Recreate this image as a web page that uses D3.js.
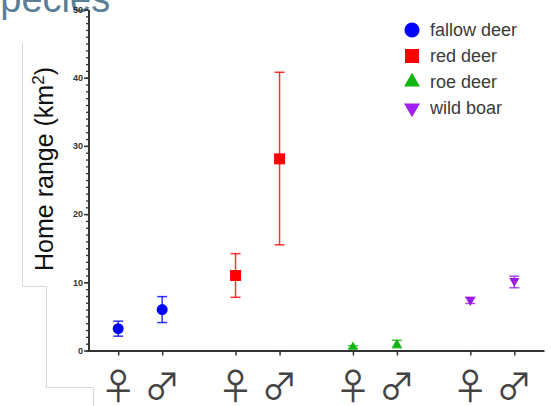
<!DOCTYPE html>
<meta charset="utf-8">
<title>Home range</title>
<style>
body { margin: 0; background: white; font-family: Arial, "Liberation Sans", sans-serif; }
.tick text { font-size: 9px; font-weight: bold; fill: #333; }
.axis path, .axis line { stroke: #333; }
</style>
<body>
<script src="https://d3js.org/d3.v7.min.js"></script>
<script>
var width = 557, height = 406;

// data
var species = ["fallow deer", "red deer", "roe deer", "wild boar"];
var sexes = ["\u2640", "\u2642"];   // female, male
var colors = ["#0000ff", "#ff0000", "#11b511", "#9a1ae8"];
var meanF = [3.2, 11.0, 0.5, 7.4];
var meanM = [6.0, 28.1, 0.9, 10.2];
var lowF  = [2.1, 7.8, 0.3, 6.9];
var highF = [4.3, 14.2, 0.7, 7.8];
var lowM  = [4.1, 15.5, 0.4, 9.2];
var highM = [7.9, 40.8, 1.5, 10.9];
var yTicks = [0, 10, 20, 30, 40, 50];

var shapes = [d3.symbolCircle, d3.symbolSquare, d3.symbolTriangle, d3.symbolTriangle];
var sizes = [95, 121, 40, 45];

var points = [];
species.forEach(function(sp, i) {
  points.push({sp: sp, i: i, sex: sexes[0], mean: meanF[i], lo: lowF[i], hi: highF[i]});
  points.push({sp: sp, i: i, sex: sexes[1], mean: meanM[i], lo: lowM[i], hi: highM[i]});
});

var svg = d3.select("body").append("svg")
    .attr("width", width)
    .attr("height", height);

// faint slide title, cut at the top
svg.append("text")
    .attr("x", -25).attr("y", 12)
    .style("font-size", "38px")
    .style("fill", "#5b7f96")
    .text("Species");

// faint placeholder borders
var grey = "#d9d9d9";
svg.append("path")
    .attr("d", "M22.5,43V286.5H46.5V387.5H93.5V406")
    .attr("fill", "none").attr("stroke", grey);

var x = d3.scaleBand().domain(species).range([81.5, 551]);
var xs = d3.scalePoint().domain(sexes).range([-22, 22]);
var y = d3.scaleLinear().domain([0, 50]).range([350.5, 9.5]);
function cx(d) { return x(d.sp) + x.bandwidth() / 2 + xs(d.sex); }

var axisX = 88.5;

// y axis minor ticks
svg.append("g").attr("class", "axis")
    .attr("transform", "translate(" + axisX + ",0)")
    .call(d3.axisLeft(y).tickValues(d3.range(0, 51, 1)).tickSize(2.5).tickFormat(""))
    .call(function(g) { g.select(".domain").remove(); })
    .selectAll("line").attr("stroke-width", 1.3);

// y axis major ticks
svg.append("g").attr("class", "axis")
    .attr("transform", "translate(" + axisX + ",0)")
    .call(d3.axisLeft(y).tickValues(yTicks).tickSize(4.5).tickSizeOuter(0).tickPadding(1))
    .call(function(g) {
      g.select(".domain").attr("stroke-width", 2);
      g.selectAll("line").attr("stroke-width", 1.5);
    });

// x axis
var xId = d3.scaleIdentity().domain([axisX - 1, 544]);
svg.append("g").attr("class", "axis")
    .attr("transform", "translate(0," + y(0) + ")")
    .call(d3.axisBottom(xId).tickValues(points.map(cx)).tickSize(5).tickSizeOuter(0).tickFormat(""))
    .call(function(g) {
      g.select(".domain").attr("stroke-width", 2);
      g.selectAll("line").attr("stroke-width", 1.5);
    });

// sex symbols under the ticks
svg.selectAll(".sex")
    .data(points)
  .enter().append("text")
    .attr("class", "sex")
    .attr("x", cx)
    .attr("y", 400)
    .attr("text-anchor", "middle")
    .style("font-family", "'Noto Sans CJK JP'")
    .style("font-size", "36px")
    .style("fill", "#444")
    .text(function(d) { return d.sex; });

// error bars
var eb = svg.selectAll(".eb")
    .data(points)
  .enter().append("g")
    .attr("class", "eb")
    .attr("stroke", function(d) { return colors[d.i]; })
    .attr("stroke-opacity", 0.8)
    .attr("stroke-width", 1.5);
eb.append("line")
    .attr("x1", cx).attr("x2", cx)
    .attr("y1", function(d) { return y(d.lo); })
    .attr("y2", function(d) { return y(d.hi); });
eb.append("line")
    .attr("x1", function(d) { return cx(d) - 5; }).attr("x2", function(d) { return cx(d) + 5; })
    .attr("y1", function(d) { return y(d.lo); }).attr("y2", function(d) { return y(d.lo); });
eb.append("line")
    .attr("x1", function(d) { return cx(d) - 5; }).attr("x2", function(d) { return cx(d) + 5; })
    .attr("y1", function(d) { return y(d.hi); }).attr("y2", function(d) { return y(d.hi); });

// means
svg.selectAll(".pt")
    .data(points)
  .enter().append("path")
    .attr("class", "pt")
    .attr("d", function(d) { return d3.symbol().type(shapes[d.i]).size(sizes[d.i])(); })
    .attr("transform", function(d) {
      return "translate(" + cx(d) + "," + y(d.mean) + ")" + (d.i == 3 ? " rotate(180)" : "");
    })
    .attr("fill", function(d) { return colors[d.i]; });

// legend
var legendSizes = [180, 196, 110, 110];
var lg = svg.selectAll(".lg")
    .data(species)
  .enter().append("g")
    .attr("class", "lg")
    .attr("transform", function(d, i) { return "translate(412," + (30 + i * 26) + ")"; });
lg.append("path")
    .attr("d", function(d, i) { return d3.symbol().type(shapes[i]).size(legendSizes[i])(); })
    .attr("transform", function(d, i) { return i == 3 ? "rotate(180)" : ""; })
    .attr("fill", function(d, i) { return i == 3 ? "#a020f0" : colors[i]; });
lg.append("text")
    .attr("x", 18).attr("y", 6)
    .style("font-size", "18px")
    .style("fill", "#3a3a3a")
    .text(function(d) { return d; });

// y label
var yl = svg.append("text")
    .attr("transform", "translate(53,169) rotate(-90)")
    .attr("text-anchor", "middle")
    .style("font-size", "25px")
    .style("fill", "#111");
yl.append("tspan").text("Home range (km");
yl.append("tspan").attr("baseline-shift", "super").style("font-size", "17px").text("2");
yl.append("tspan").text(")");
</script>
</body>
